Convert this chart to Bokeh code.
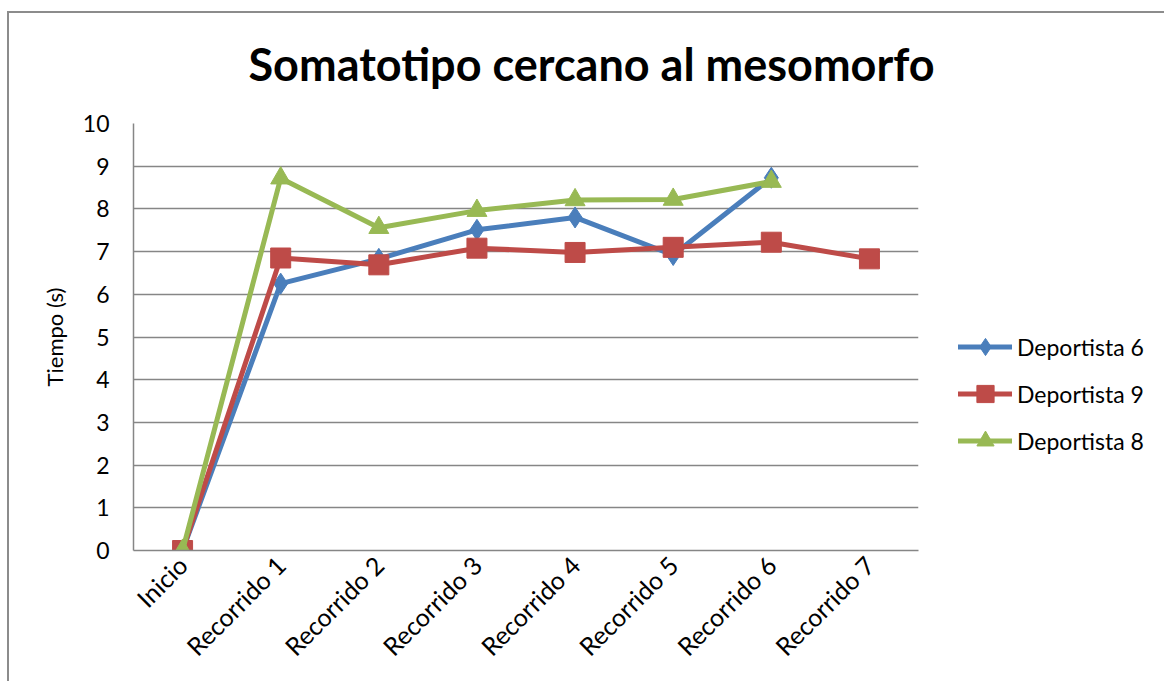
import math
from bokeh.plotting import figure
from bokeh.models import Legend, LegendItem, Title, FixedTicker, Range1d, FactorRange
from bokeh.embed import file_html
from bokeh.resources import INLINE

categories = ["Inicio", "Recorrido 1", "Recorrido 2", "Recorrido 3",
              "Recorrido 4", "Recorrido 5", "Recorrido 6", "Recorrido 7"]
deportista6 = [0, 6.25, 6.83, 7.51, 7.80, 6.92, 8.73]
deportista9 = [0, 6.85, 6.69, 7.08, 6.98, 7.10, 7.22, 6.83]
deportista8 = [0, 8.72, 7.56, 7.96, 8.21, 8.22, 8.64]
y_ticks = list(range(0, 11))

FONT = "Lato"
GRID = "#868686"
BORDER = "#8c8c8c"

bg = (f"linear-gradient({BORDER},{BORDER}) 7px 11px / 2px 100% no-repeat, "
      f"linear-gradient({BORDER},{BORDER}) 7px 11px / 100% 2px no-repeat, white")

p = figure(frame_width=785, frame_height=427, x_range=FactorRange(*categories),
           y_range=Range1d(0, 10), output_backend="svg", toolbar_location=None,
           min_border_left=133, min_border_top=123, min_border_right=238,
           min_border_bottom=131, styles={"background": bg})
p.outline_line_color = None
p.background_fill_color = "white"
p.border_fill_color = None

p.xgrid.grid_line_color = None
p.ygrid.grid_line_color = GRID
p.ygrid.grid_line_width = 1.5
p.yaxis.ticker = FixedTicker(ticks=y_ticks)

for ax in (p.xaxis[0], p.yaxis[0]):
    ax.axis_line_color = GRID
    ax.axis_line_width = 1.5
    ax.major_tick_line_color = None
    ax.minor_tick_line_color = None
    ax.major_tick_out = 0
    ax.major_tick_in = 0
    ax.major_label_text_font = FONT
    ax.major_label_text_font_size = "23px"
    ax.major_label_text_color = "black"

p.xaxis.major_label_text_font_size = "25px"
p.yaxis.major_label_standoff = 24
p.xaxis.major_label_standoff = 10
p.xaxis.major_label_orientation = math.pi / 4
p.yaxis.axis_label = "Tiempo (s)"
p.yaxis.axis_label_text_font = FONT
p.yaxis.axis_label_text_font_style = "normal"
p.yaxis.axis_label_text_font_size = "22px"
p.yaxis.axis_label_text_color = "black"
p.yaxis.axis_label_standoff = 12

series = [
    ("Deportista 6", deportista6, "#4A7EBB", "diamond", 21),
    ("Deportista 9", deportista9, "#BE4B48", "square", 20),
    ("Deportista 8", deportista8, "#98B954", "triangle", 20),
]
items = []
for name, vals, color, marker, size in series:
    xs = categories[:len(vals)]
    lr = p.line(xs, vals, line_color=color, line_width=5, line_join="round", line_cap="round")
    sr = p.scatter(xs, vals, marker=marker, size=size,
                   fill_color=color, line_color=color)
    items.append(LegendItem(label=name, renderers=[lr, sr]))

legend = Legend(items=items, location=(40, 88), padding=0, margin=0,
                glyph_width=54, glyph_height=43, label_height=43, spacing=4,
                label_standoff=5, label_text_font=FONT, label_text_font_size="23px",
                label_text_color="black", border_line_color=None,
                background_fill_alpha=0)
p.add_layout(legend, "right")

title = Title(text="Somatotipo cercano al mesomorfo", text_font=FONT,
              text_font_style="bold", text_font_size="45px", text_color="black",
              align="left", offset=115, standoff=66, vertical_align="bottom")
p.add_layout(title, "above")

open("out.html", "w").write(file_html(p, INLINE))
